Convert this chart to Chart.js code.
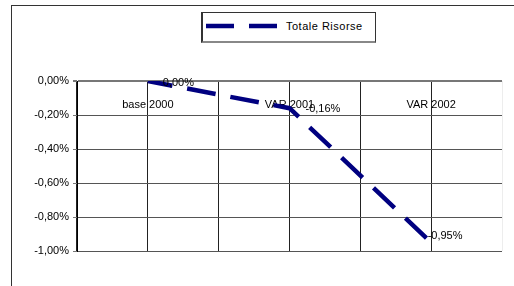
<!DOCTYPE html>
<html>
<head>
<meta charset="utf-8">
<script src="https://cdn.jsdelivr.net/npm/chart.js@4.4.0/dist/chart.umd.min.js"></script>
<style>
  html, body { margin: 0; padding: 0; background: #fff; }
  #wrap { position: relative; width: 514px; height: 286px; overflow: hidden; }
  #grafico { position: absolute; left: 0; top: 0; }
  #cornice { position: absolute; left: 11px; top: 5px; width: 600px; height: 400px; border: 1.5px solid #333; pointer-events: none; }
  #legenda { position: absolute; left: 201px; top: 12px; width: 172px; height: 28px;
    border: 1px solid #333; border-left-width: 2px; border-bottom: 2px solid #888; background: #fff;
    font: 11px "Liberation Sans", Arial, sans-serif; color: #000; }
  #legenda svg { position: absolute; left: 0; top: 0; }
  #legenda span { position: absolute; left: 83px; top: 7px; line-height: 13px; letter-spacing: 0.5px; white-space: nowrap; }
</style>
</head>
<body>
<div id="wrap">
  <canvas id="grafico" width="514" height="286"></canvas>
  <div id="cornice"></div>
  <div id="legenda">
    <svg width="172" height="28"><line x1="3" y1="13" x2="75" y2="13" stroke="#000080" stroke-width="4.5" stroke-dasharray="28 15"></line></svg>
    <span id="nomeLegenda"></span>
  </div>
</div>
<script>
// dati
const categorie = ['base 2000', 'VAR 2001', 'VAR 2002'];
const totaleRisorse = [0, -0.16, -0.95];
const tickValori = [0, -0.2, -0.4, -0.6, -0.8, -1.0];
const nomeSerie = 'Totale Risorse';

const FONT = '"Liberation Sans", Arial, sans-serif';

const fmt = (v) => v.toFixed(2).replace('.', ',') + '%';

document.getElementById('nomeLegenda').textContent = nomeSerie;

// etichette dati accanto ai punti
const etichetteDati = {
    id: 'etichetteDati',
    afterDatasetsDraw(chart, args, opts) {
        const ctx = chart.ctx;
        const meta = chart.getDatasetMeta(0);
        ctx.save();
        ctx.font = '11px ' + FONT;
        ctx.fillStyle = '#000';
        ctx.textAlign = 'left';
        ctx.textBaseline = 'middle';
        meta.data.forEach((pt, i) => {
            const off = opts.offsets[i] || [10, 0];
            ctx.fillText(fmt(totaleRisorse[i]), pt.x + off[0], pt.y + off[1]);
        });
        ctx.restore();
    }
};

const ctx = document.getElementById('grafico').getContext('2d');
const chart = new Chart(ctx, {
    type: 'line',
    data: {
        labels: categorie,
        datasets: [{
            label: nomeSerie,
            data: totaleRisorse,
            borderColor: '#000080',
            backgroundColor: '#000080',
            borderWidth: 4.5,
            borderDash: [29, 15],
            borderDashOffset: 4,
            borderCapStyle: 'butt',
            pointRadius: 0,
            tension: 0,
            fill: false,
            clip: { left: 10, top: 0, right: 10, bottom: 10 },
            xAxisID: 'x',
            yAxisID: 'y'
        }]
    },
    options: {
        responsive: false,
        animation: false,
        devicePixelRatio: 1,
        layout: { padding: { left: 10, top: 81, right: 12, bottom: 35 } },
        plugins: {
            legend: { display: false },
            tooltip: { enabled: false },
            etichetteDati: { offsets: [[15, 2], [16, 1], [-3.5, -6.5]] }
        },
        scales: {
            x: {
                type: 'category',
                position: 'top',
                offset: true,
                afterFit: (s) => { s.height = 0; },
                grid: { offset: false, color: '#222', lineWidth: 1, drawTicks: false },
                border: { display: false },
                ticks: { mirror: true, padding: 17, color: '#000', font: { family: FONT, size: 11 }, maxRotation: 0, autoSkip: false }
            },
            x2: {
                type: 'category',
                position: 'bottom',
                offset: true,
                afterFit: (s) => { s.height = 0; },
                grid: {
                    offset: true,
                    drawTicks: false,
                    lineWidth: 1,
                    color: (c) => c.index === undefined ? 'rgba(0,0,0,0.07)' : '#222'
                },
                border: { display: false },
                ticks: { display: false }
            },
            y: {
                min: -1,
                max: 0,
                afterBuildTicks: (s) => { s.ticks = tickValori.map(v => ({ value: v })); },
                afterFit: (s) => { s.width = 67; },
                grid: {
                    color: (c) => c.tick && c.tick.value === 0 ? '#777' : '#555',
                    lineWidth: (c) => c.tick && c.tick.value === 0 ? 2 : 1,
                    tickLength: 4,
                    tickColor: '#777'
                },
                border: { color: '#000', width: 1 },
                ticks: { padding: 4, color: '#000', font: { family: FONT, size: 11 }, callback: (v) => fmt(v) }
            }
        }
    },
    plugins: [etichetteDati]
});
</script>
</body>
</html>
